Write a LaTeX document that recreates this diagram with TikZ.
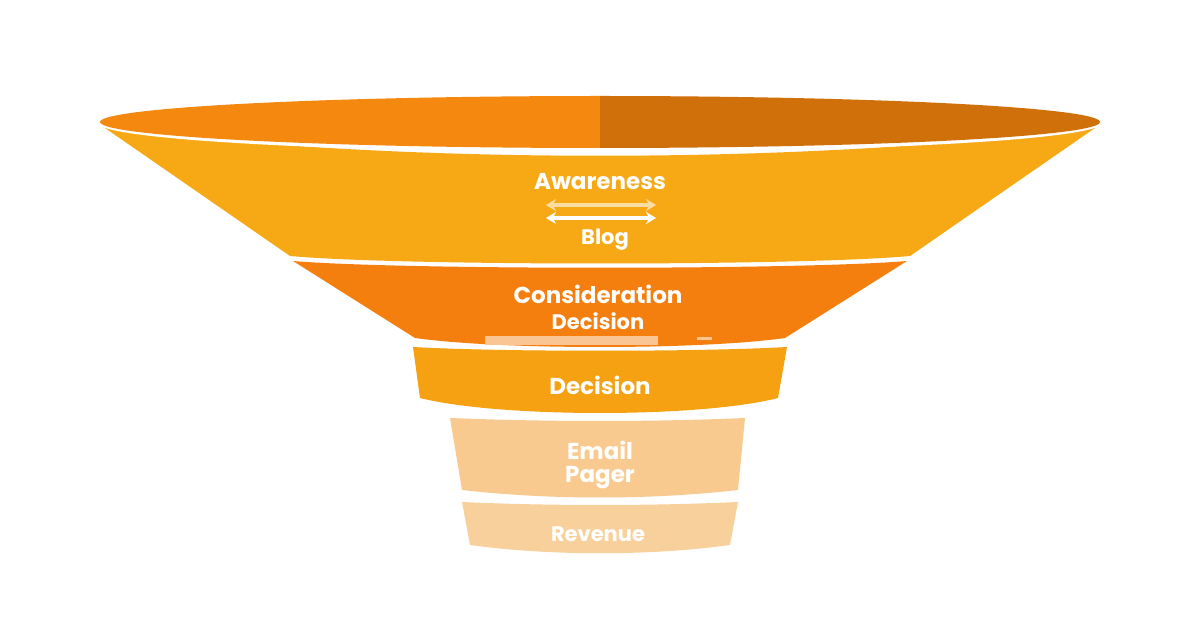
\documentclass[tikz,border=0pt]{standalone}
\usepackage{fontspec}
\setmainfont{Poppins}
\usetikzlibrary{arrows.meta}
\definecolor{rimL}{HTML}{F5880F}
\definecolor{rimR}{HTML}{D0700A}
\definecolor{bandA}{HTML}{F6A915}
\definecolor{bandB}{HTML}{F57F0E}
\definecolor{bandC}{HTML}{F5A112}
\definecolor{bandD}{HTML}{F8CA90}
\definecolor{bandE}{HTML}{F8D09C}
\tikzset{lbl/.style={text=white,font=\bfseries\fontsize{11.5}{13}\selectfont,inner sep=0pt},
 dbl/.style={{Stealth[length=5pt,width=6pt]}-{Stealth[length=5pt,width=6pt]},line width=2pt}}
\begin{document}
\begin{tikzpicture}[x=0.5pt,y=-0.5pt]
\fill[white] (0,0) rectangle (1200,630);
% bands
\fill[bandA] (105,128) .. controls (400,165) and (800,165) .. (1095,128) -- (910,256) .. controls (800,266) and (400,266) .. (290,256) -- cycle;
\fill[bandB] (293,261) .. controls (400,270) and (800,270) .. (907,261) -- (785,338) .. controls (700,350) and (500,350) .. (415,338) -- cycle;
\fill[bandC] (413,347) .. controls (500,352) and (700,352) .. (787,347) -- (778,398) .. controls (700,418) and (500,418) .. (420,398) -- cycle;
\fill[bandD] (450,418) .. controls (550,422) and (650,422) .. (745,418) -- (738,490) .. controls (650,500) and (550,500) .. (462,490) -- cycle;
\fill[bandE] (462,502) .. controls (550,506) and (650,506) .. (738,502) -- (730,545) .. controls (650,556) and (550,556) .. (470,545) -- cycle;
% rim
\fill[white] (600,123) ellipse[x radius=502,y radius=29];
\begin{scope}
\clip (0,0) rectangle (600,200);
\fill[rimL] (600,122) ellipse[x radius=500,y radius=26];
\end{scope}
\begin{scope}
\clip (600,0) rectangle (1200,200);
\fill[rimR] (600,122) ellipse[x radius=500,y radius=26];
\end{scope}
% labels
\node[lbl] (aw) at (600,182) {Awareness};
\coordinate (a1) at (546,205); \coordinate (a2) at (656,205);
\coordinate (b1) at (546,218); \coordinate (b2) at (656,218);
\draw[dbl,white!60!bandA] (a1) -- (a2);
\draw[dbl,white] (b1) -- (b2);
\node[lbl,font=\bfseries\fontsize{10.5}{12}\selectfont] (blog) at (605,240) {Blog};
\node[lbl] (con) at (598,294) {Consideration};
\node[lbl,font=\bfseries\fontsize{10.5}{12}\selectfont] (dec1) at (598,321) {Decision};
\fill[white!55!bandB] (485,336) rectangle (658,345);
\fill[white!55!bandB] (697,337) rectangle (712,340);
\node[lbl] (dec) at (600,385) {Decision};
\node[lbl] (em) at (600,450) {Email};
\node[lbl] (pg) at (600,478) {Pager};
\node[lbl,font=\bfseries\fontsize{10.5}{12}\selectfont] (rev) at (598,534) {Revenue};
\end{tikzpicture}
\end{document}
